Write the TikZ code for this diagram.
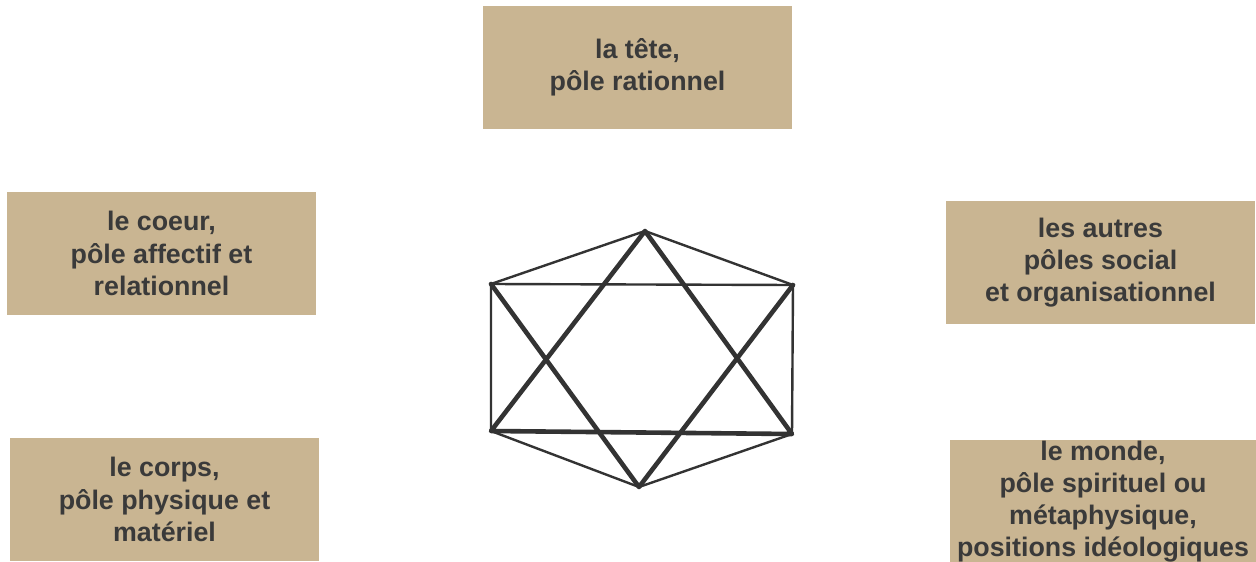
\documentclass[tikz,border=0pt]{standalone}
\usepackage{fontspec}
\setmainfont{Liberation Sans}
\definecolor{boxtan}{HTML}{C9B592}
\definecolor{inkgray}{HTML}{3A3A3A}
\definecolor{linegray}{HTML}{333333}
\begin{document}
\begin{tikzpicture}[x=1pt,y=-1pt,
  pole/.style={fill=boxtan,draw=none,minimum width=309pt,minimum height=123pt,
    align=center,text=inkgray,font=\bfseries\fontsize{26.8}{32.2}\selectfont,inner sep=0pt},
  thin/.style={draw=linegray,line width=2.4pt,line cap=round,line join=round},
  thick/.style={draw=linegray,line width=4.6pt,line cap=round,line join=round}]
\useasboundingbox (0,0) rectangle (1256,562);
\clip (0,0) rectangle (1256,562);
\node[pole] (tete) at (637.5,67.5) {la tête,\\pôle rationnel};
\node[pole] (coeur) at (161.5,253.5) {le coeur,\\pôle affectif et\\relationnel};
\node[pole] (autres) at (1100.5,262.5) {les autres\\pôles social\\et organisationnel};
\node[pole] (corps) at (164.5,499.5) {le corps,\\pôle physique et\\matériel};
\node[pole,minimum width=306pt] (monde) at (1103,501.5) {le monde,\\pôle spirituel ou\\métaphysique,\\positions idéologiques};
\coordinate (T) at (645,231);
\coordinate (UL) at (491,284);
\coordinate (UR) at (793,285);
\coordinate (LL) at (491,431);
\coordinate (LR) at (792,434);
\coordinate (B) at (639,487);
\draw[thin] (T) -- (UL) -- (LL) -- (B) -- (LR) -- (UR) -- cycle;
\draw[thin] (UL) -- (UR);
\draw[thick] (T) -- (LL) -- (LR) -- cycle;
\draw[thick] (UL) -- (B) -- (UR);
\end{tikzpicture}
\end{document}
